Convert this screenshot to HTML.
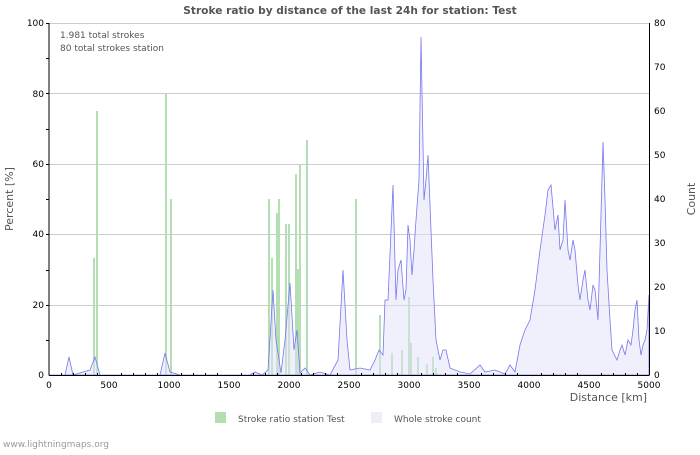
<!DOCTYPE html>
<html><head><meta charset="utf-8"><style>
body{margin:0;background:#fff;width:700px;height:450px;overflow:hidden}
text{font-family:"DejaVu Sans","Liberation Sans",sans-serif}
</style></head><body>
<svg width="700" height="450" xmlns="http://www.w3.org/2000/svg">
<text x="350" y="14" text-anchor="middle" font-size="10.6" font-weight="bold" fill="#555">Stroke ratio by distance of the last 24h for station: Test</text>
<g stroke="#ccc" stroke-width="1">
<line x1="49" y1="23.5" x2="649" y2="23.5"/><line x1="49" y1="93.5" x2="649" y2="93.5"/>
<line x1="49" y1="164.5" x2="649" y2="164.5"/><line x1="49" y1="234.5" x2="649" y2="234.5"/>
<line x1="49" y1="305.5" x2="649" y2="305.5"/>
</g>
<g fill="#b3dfb3">
<rect x="93" y="258" width="2" height="117"/><rect x="96" y="111" width="2" height="264"/>
<rect x="165" y="93" width="2" height="282"/><rect x="170" y="199" width="2" height="176"/>
<rect x="268" y="199" width="2" height="176"/><rect x="271" y="258" width="2" height="117"/>
<rect x="276" y="213" width="2" height="162"/><rect x="278" y="199" width="2" height="176"/>
<rect x="285" y="224" width="2" height="151"/><rect x="288" y="224" width="2" height="151"/>
<rect x="295" y="174" width="2" height="201"/><rect x="297" y="269" width="2" height="106"/>
<rect x="299" y="164" width="2" height="211"/><rect x="306" y="140" width="2" height="235"/>
<rect x="355" y="199" width="2" height="176"/><rect x="379" y="315" width="2" height="60"/>
<rect x="391" y="353" width="2" height="22"/><rect x="401" y="350" width="2" height="25"/>
<rect x="408" y="297" width="2" height="78"/><rect x="410" y="343" width="2" height="32"/>
<rect x="417" y="357" width="2" height="18"/><rect x="426" y="364" width="2" height="11"/>
<rect x="432" y="357" width="2" height="18"/><rect x="435" y="368" width="2" height="7"/>
</g>
<polygon fill="rgba(225,225,250,0.5)" stroke="#7777ee" stroke-width="0.8" points="49,375 65,375 69,357 73,375 90,370 95,357 100,375 160,375 165,353 170,372 180,375 250,375 255,372 262,375 268,370 273,290 276,340 281,373 285,340 290,283 294,350 297,330 300,373 305,368 310,375 320,372 330,375 338,360 343,270 347,340 350,370 360,368 370,370 375,360 379,350 383,355 385,300 388,300 393,185 396,300 398,270 401,260 404,300 406,290 408,225 410,240 412,275 414,250 416,220 419,180 421,37 424,200 426,180 428,155 431,230 433,280 436,340 440,360 443,350 446,350 450,368 460,372 470,374 480,365 485,372 495,370 505,374 510,365 515,372 520,345 525,330 530,320 535,290 540,250 545,215 548,190 551,185 555,230 558,215 560,250 563,240 565,200 568,250 570,260 573,240 575,250 578,285 580,300 583,280 585,270 588,300 590,310 593,285 595,290 598,320 600,250 603,142 605,200 607,270 610,320 612,350 617,360 620,350 622,345 625,355 628,340 631,345 633,330 635,310 637,300 639,340 641,355 643,345 645,340 647,330 649,295 649,375"/>
<line x1="49" y1="23" x2="49" y2="375.5" stroke="#000"/>
<line x1="649.5" y1="23" x2="649.5" y2="375.5" stroke="#000"/>
<line x1="49" y1="375.5" x2="649" y2="375.5" stroke="#000"/>
<g stroke="#000">
<line x1="46" y1="23.5" x2="49" y2="23.5"/><line x1="46" y1="58.5" x2="49" y2="58.5"/><line x1="46" y1="93.5" x2="49" y2="93.5"/><line x1="46" y1="129.5" x2="49" y2="129.5"/><line x1="46" y1="164.5" x2="49" y2="164.5"/><line x1="46" y1="199.5" x2="49" y2="199.5"/><line x1="46" y1="234.5" x2="49" y2="234.5"/><line x1="46" y1="270.5" x2="49" y2="270.5"/><line x1="46" y1="305.5" x2="49" y2="305.5"/><line x1="46" y1="340.5" x2="49" y2="340.5"/>
</g>
<path stroke="#000" stroke-width="1" d="M61.5,373v2M73.5,373v2M85.5,373v2M97.5,373v2M121.5,373v2M133.5,373v2M145.5,373v2M157.5,373v2M181.5,373v2M193.5,373v2M205.5,373v2M217.5,373v2M241.5,373v2M253.5,373v2M265.5,373v2M277.5,373v2M301.5,373v2M313.5,373v2M325.5,373v2M337.5,373v2M361.5,373v2M373.5,373v2M385.5,373v2M397.5,373v2M421.5,373v2M433.5,373v2M445.5,373v2M457.5,373v2M481.5,373v2M493.5,373v2M505.5,373v2M517.5,373v2M541.5,373v2M553.5,373v2M565.5,373v2M577.5,373v2M601.5,373v2M613.5,373v2M625.5,373v2M637.5,373v2"/>
<g font-size="9" fill="#000" text-anchor="end">
<text x="44" y="26">100</text><text x="44" y="97">80</text><text x="44" y="167">60</text><text x="44" y="237">40</text><text x="44" y="308">20</text><text x="44" y="378">0</text>
</g>
<g font-size="9" fill="#000">
<text x="654" y="26">80</text><text x="654" y="70">70</text><text x="654" y="114">60</text><text x="654" y="158">50</text><text x="654" y="202">40</text><text x="654" y="246">30</text><text x="654" y="290">20</text><text x="654" y="334">10</text><text x="654" y="378">0</text>
</g>
<g font-size="9" fill="#000" text-anchor="middle">
<text x="49" y="388">0</text><text x="109" y="388">500</text><text x="169" y="388">1000</text><text x="229" y="388">1500</text><text x="289" y="388">2000</text><text x="349" y="388">2500</text><text x="409" y="388">3000</text><text x="469" y="388">3500</text><text x="529" y="388">4000</text><text x="589" y="388">4500</text><text x="649" y="388">5000</text>
</g>
<text x="60" y="38" font-size="9" fill="#555">1.981 total strokes</text>
<text x="60" y="51" font-size="9" fill="#555">80 total strokes station</text>
<text x="647" y="401" font-size="11" fill="#555" text-anchor="end">Distance   [km]</text>
<text transform="translate(13,199) rotate(-90)" font-size="11" fill="#555" text-anchor="middle">Percent   [%]</text>
<text transform="translate(695,199) rotate(-90)" font-size="11" fill="#555" text-anchor="middle">Count</text>
<rect x="215" y="412" width="11" height="11" fill="#b3dfb3"/>
<text x="238" y="422" font-size="9" fill="#555">Stroke ratio station Test</text>
<rect x="371" y="412" width="11" height="11" fill="#eeeefa"/>
<text x="394" y="422" font-size="9" fill="#555">Whole stroke count</text>
<text x="3" y="447" font-size="9" fill="#999">www.lightningmaps.org</text>
</svg>
</body></html>
